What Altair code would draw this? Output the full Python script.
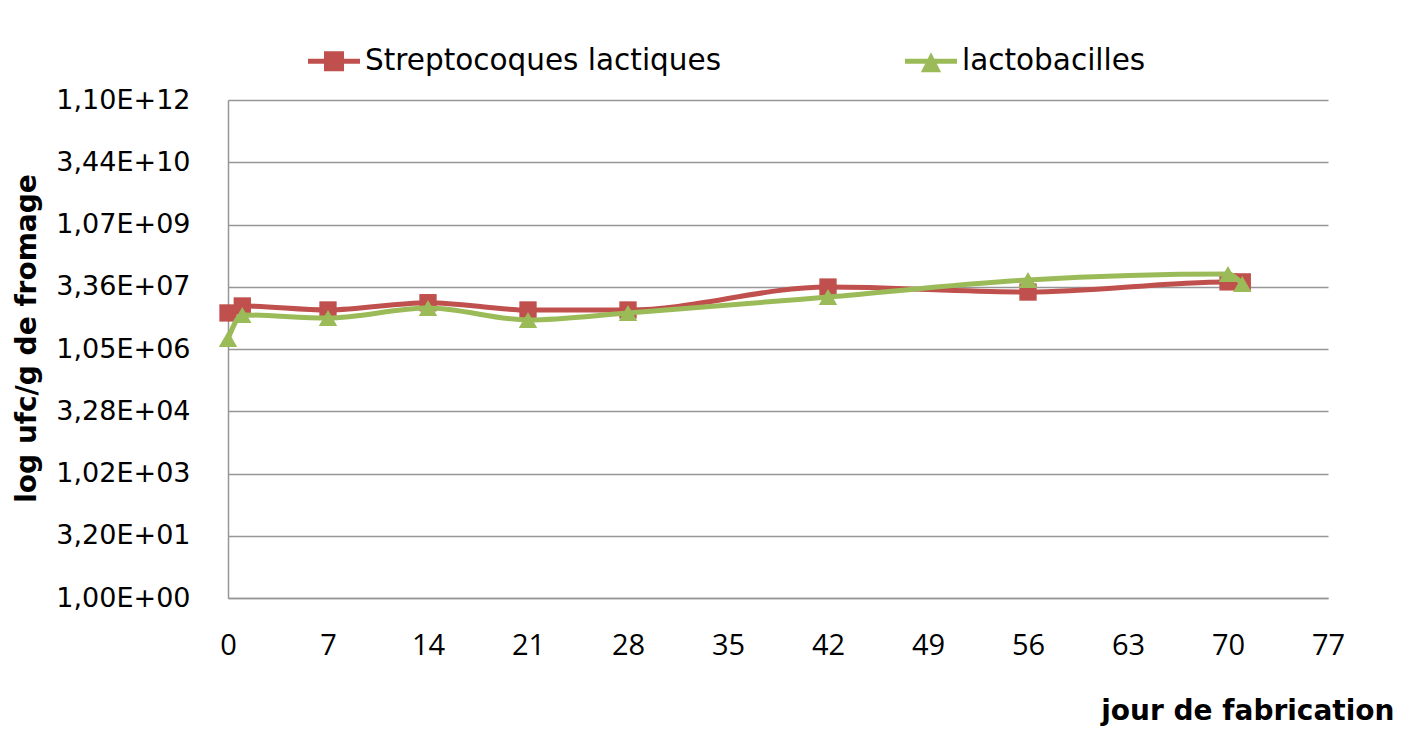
import altair as alt
import pandas as pd

days = [0, 1, 7, 14, 21, 28, 42, 56, 70, 71]
strepto = [7.8e6, 1.15e7, 9.2e6, 1.38e7, 9.2e6, 9.2e6, 3.3e7, 2.5e7, 4.4e7, 4.4e7]
lacto = [1.83e6, 7.0e6, 5.9e6, 1.03e7, 5.3e6, 7.8e6, 1.9e7, 4.9e7, 6.8e7, 3.9e7]
series_names = ["Streptocoques lactiques", "lactobacilles"]
series_colors = ["#C0504D", "#9BBB59"]
x_ticks = [0, 7, 14, 21, 28, 35, 42, 49, 56, 63, 70, 77]
y_ticks = [1, 32, 1024, 32768, 1048576, 33554432, 1073741824, 34359738368, 1099511627776]
y_tick_labels = ["1,00E+00", "3,20E+01", "1,02E+03", "3,28E+04", "1,05E+06",
                 "3,36E+07", "1,07E+09", "3,44E+10", "1,10E+12"]
x_title = "jour de fabrication"
y_title = "log ufc/g de fromage"

rows = []
for d, v in zip(days, strepto):
    rows.append({"jour": d, "ufc": v, "serie": series_names[0]})
for d, v in zip(days, lacto):
    rows.append({"jour": d, "ufc": v, "serie": series_names[1]})
df = pd.DataFrame(rows)

FONT = "DejaVu Sans"
XFONT = "Open Sans"
label_expr = "[" + ",".join("'%s'" % s for s in y_tick_labels) + "][round(log(datum.value)/log(32))]"

x_enc = alt.X("jour:Q",
              scale=alt.Scale(domain=[0, 77], nice=False, zero=False),
              axis=alt.Axis(values=x_ticks, title=x_title, grid=False, ticks=False,
                            labelFontSize=29, labelFont=XFONT, labelPadding=33,
                            labelFlush=False, labelColor="#000000",
                            domainColor="#969696", domainWidth=1.5,
                            titleFont=FONT, titleFontSize=28, titleFontWeight="bold",
                            titleColor="#000000",
                            titleX=1166, titleY=121, titleAlign="right",
                            titleBaseline="alphabetic"))
y_enc = alt.Y("ufc:Q",
              scale=alt.Scale(type="log", base=32, domain=[1, 1099511627776], nice=False),
              axis=alt.Axis(values=y_ticks, labelExpr=label_expr, title=y_title,
                            grid=True, gridColor="#969696", gridWidth=1.5, ticks=False,
                            labelFontSize=27, labelFont=FONT, labelPadding=38,
                            labelColor="#000000",
                            domainColor="#969696", domainWidth=1.5,
                            titleFont=FONT, titleFontSize=28, titleFontWeight="bold",
                            titleColor="#000000",
                            titleX=-193, titleY=238, titleAngle=-90,
                            titleAlign="center", titleBaseline="alphabetic"))

base = alt.Chart(df)

layers = []
shapes = ["square", "triangle-up"]
sizes = [300, 340]
for name, col, shp, sz in zip(series_names, series_colors, shapes, sizes):
    sub = base.transform_filter(alt.datum.serie == name)
    layers.append(sub.mark_line(color=col, strokeWidth=5, interpolate="monotone").encode(x=x_enc, y=y_enc))
    layers.append(sub.mark_point(color=col, filled=True, opacity=1, size=sz, shape=shp,
                                 strokeWidth=0).encode(x=x_enc, y=y_enc))

legend_paths = [
    "M-1,-0.096H1V0.096H-1Z M-0.385,-0.385H0.385V0.385H-0.385Z",
    "M-1,-0.096H1V0.096H-1Z M0,-0.35L0.39,0.42L-0.39,0.42Z",
]
# legend-only layer (no marks drawn; scales have explicit domains)
dummy = base.transform_filter(alt.datum.jour < 0).mark_point(
    filled=True, strokeWidth=0, opacity=1, fillOpacity=1).encode(
    x=x_enc, y=y_enc,
    color=alt.Color("serie:N", scale=alt.Scale(domain=series_names, range=series_colors),
                    legend=alt.Legend(title=None, orient="none", legendX=80, legendY=-65,
                                      direction="horizontal", symbolSize=2704,
                                      symbolOpacity=1, symbolStrokeWidth=0,
                                      labelFont=FONT, labelFontSize=29.5, labelColor="#000000",
                                      labelOffset=5, columnPadding=183, labelLimit=1000)),
    shape=alt.Shape("serie:N", scale=alt.Scale(domain=series_names, range=legend_paths)),
)
layers.append(dummy)

chart = alt.layer(*layers).properties(
    width=1100, height=498,
    autosize=alt.AutoSizeParams(type="none"),
    padding={"left": 220, "top": 92, "right": 67, "bottom": 130},
    background="white",
).configure_view(stroke=None)

chart.save("out.html", embed_options={"renderer": "svg", "actions": False})
